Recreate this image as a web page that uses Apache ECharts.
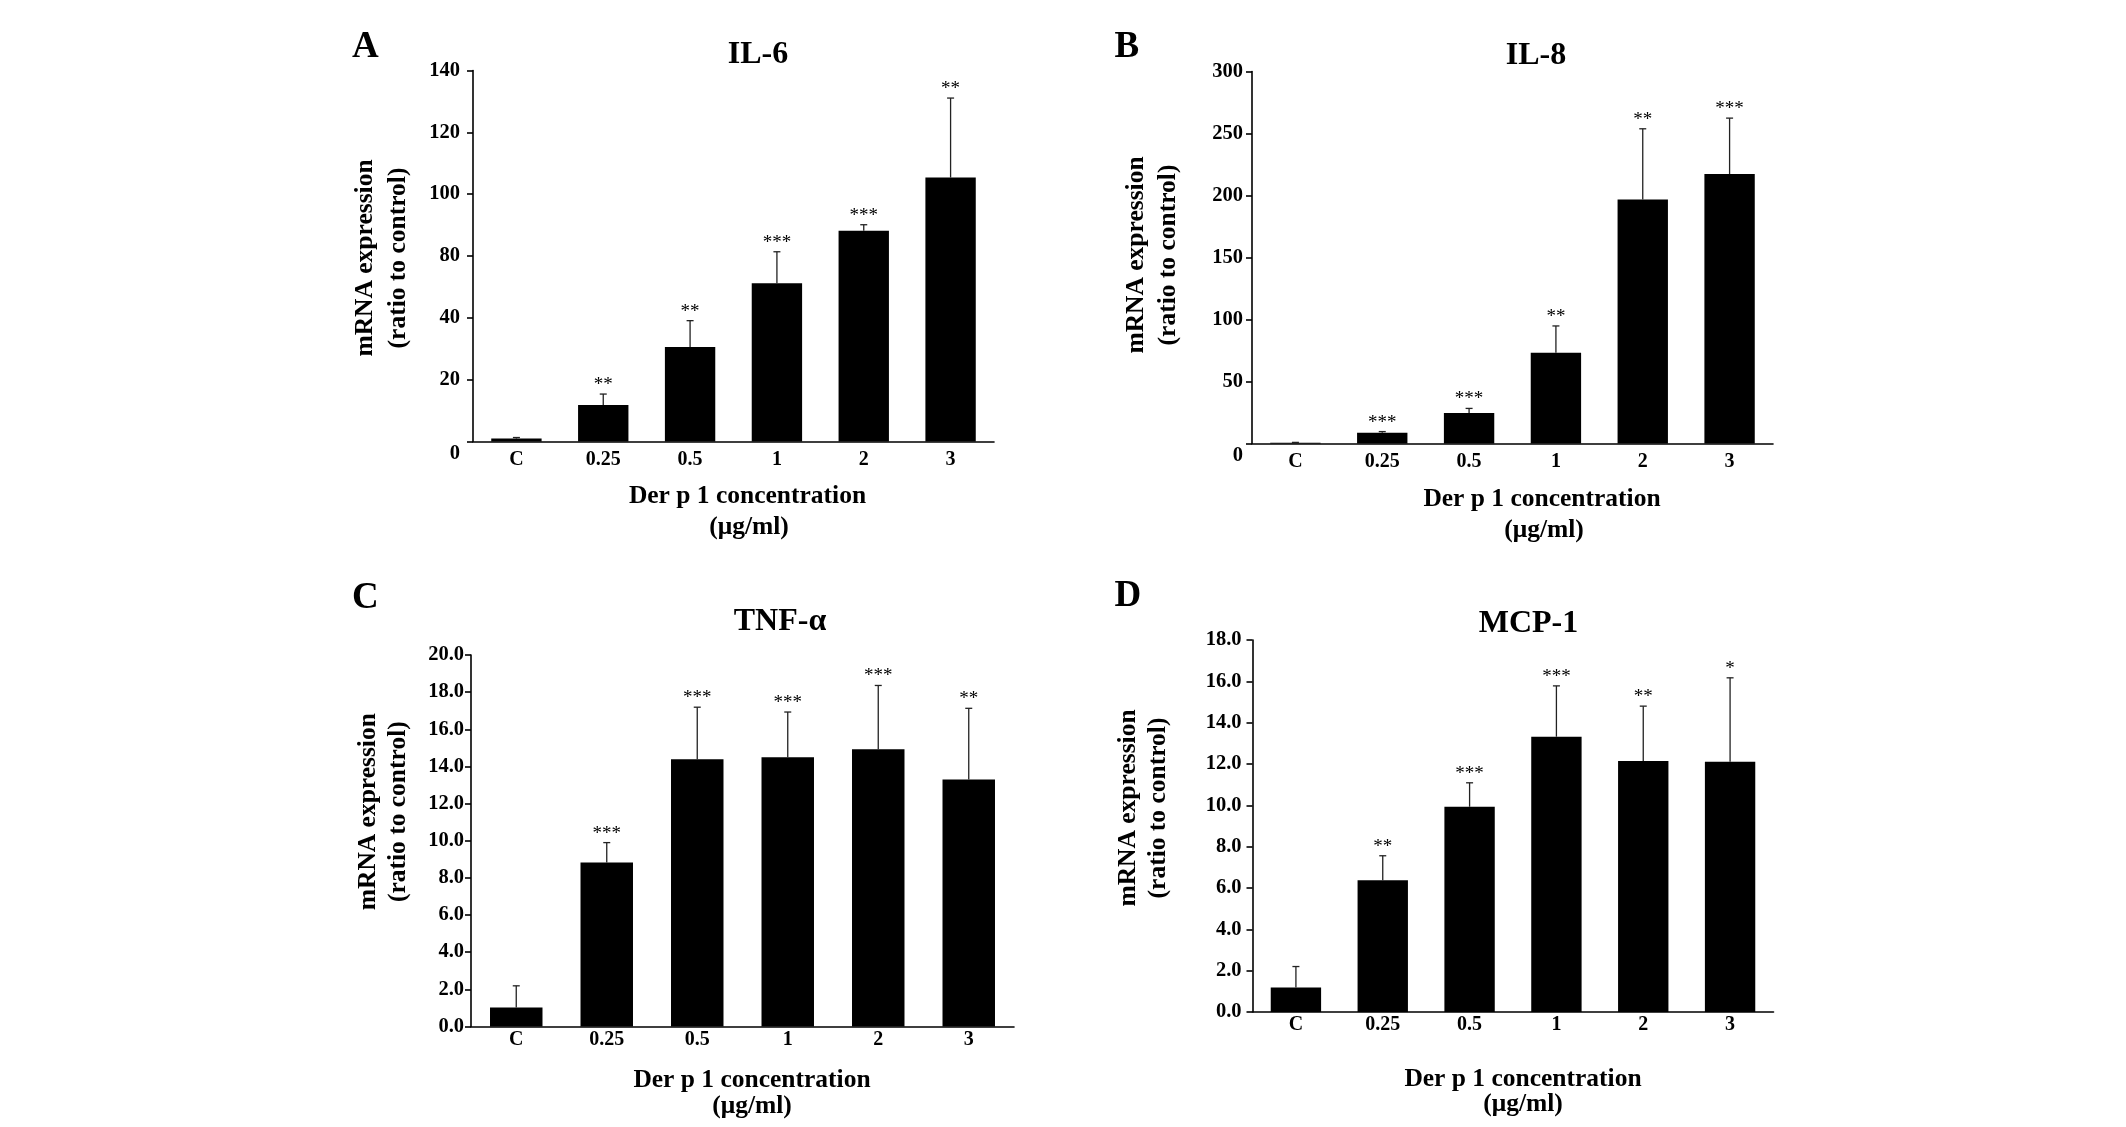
<!DOCTYPE html>
<html>
<head>
<meta charset="utf-8">
<script src="https://cdn.jsdelivr.net/npm/echarts@6/dist/echarts.min.js"></script>
<style>
html,body{margin:0;padding:0;background:#fff;}
#chart{width:2126px;height:1127px;}
</style>
</head>
<body>
<div id="chart"></div>
<script>
// ---- data ----
const categories = ['C', '0.25', '0.5', '1', '2', '3'];

const il6Mean = [1.1, 13.8, 35.7, 59.7, 79.5, 99.6];
const il6Err  = [0.4, 4.1, 9.9, 11.9, 2.3, 30.0];
const il6Sig  = ['', '**', '**', '***', '***', '**'];
const il6Ticks = ['0', '20', '40', '80', '100', '120', '140'];

const il8Mean = [0.6, 8.7, 24.6, 73.1, 196.8, 217.3];
const il8Err  = [0.3, 0.9, 3.7, 21.7, 57.0, 45.1];
const il8Sig  = ['', '***', '***', '**', '**', '***'];
const il8Ticks = ['0', '50', '100', '150', '200', '250', '300'];

const tnfMean = [1.02, 8.83, 14.39, 14.49, 14.92, 13.30];
const tnfErr  = [1.17, 1.07, 2.80, 2.44, 3.44, 3.83];
const tnfSig  = ['', '***', '***', '***', '***', '**'];
const tnfTicks = ['0.0', '2.0', '4.0', '6.0', '8.0', '10.0', '12.0', '14.0', '16.0', '18.0', '20.0'];

const mcpMean = [1.18, 6.38, 9.93, 13.32, 12.15, 12.11];
const mcpErr  = [1.02, 1.18, 1.16, 2.46, 2.65, 4.06];
const mcpSig  = ['', '**', '***', '***', '**', '*'];
const mcpTicks = ['0.0', '2.0', '4.0', '6.0', '8.0', '10.0', '12.0', '14.0', '16.0', '18.0'];

const panelLetters = ['A', 'B', 'C', 'D'];
const panelTitles = ['IL-6', 'IL-8', 'TNF-α', 'MCP-1'];
const xName1 = 'Der p 1 concentration';
const xName2 = '(μg/ml)';
const yName1 = 'mRNA expression';
const yName2 = '(ratio to control)';

// ---- layout / style ----
const FONT = '"Liberation Serif", "Times New Roman", serif';

const panels = [
  { mean: il6Mean, err: il6Err, sig: il6Sig, ticks: il6Ticks, max: 140,
    grid: { left: 473, top: 70.5, width: 521, height: 371 },
    yLabelMargin: 13, xLabelMargin: 8, zeroDown: true,
    letter: [352, 47.5], title: [758, 55], xn1: [747.5, 496], xn2: [749, 527],
    yn1: [365, 258], yn2: [398.5, 258] },
  { mean: il8Mean, err: il8Err, sig: il8Sig, ticks: il8Ticks, max: 300,
    grid: { left: 1252, top: 71.5, width: 521, height: 372 },
    yLabelMargin: 9, xLabelMargin: 8, zeroDown: true,
    letter: [1114.5, 47.5], title: [1536, 55.5], xn1: [1542, 499], xn2: [1544, 530],
    yn1: [1136.5, 255], yn2: [1168.5, 255] },
  { mean: tnfMean, err: tnfErr, sig: tnfSig, ticks: tnfTicks, max: 20,
    grid: { left: 471, top: 655, width: 543, height: 371.5 },
    yLabelMargin: 7, xLabelMargin: 3, zeroDown: false,
    letter: [352, 598], title: [780, 622], xn1: [752, 1080], xn2: [752, 1106],
    yn1: [368, 811.7], yn2: [398.5, 811.7] },
  { mean: mcpMean, err: mcpErr, sig: mcpSig, ticks: mcpTicks, max: 18,
    grid: { left: 1252.5, top: 640, width: 521, height: 372 },
    yLabelMargin: 11, xLabelMargin: 3, zeroDown: false,
    letter: [1114.5, 596], title: [1528.5, 623.6], xn1: [1523, 1079], xn2: [1523, 1104],
    yn1: [1128.3, 808], yn2: [1158.5, 808] }
];

function txt(x, y, text, font, align, rotation) {
  return {
    type: 'text', x: x, y: y, rotation: rotation || 0, silent: true,
    style: { text: text, font: font, fill: '#000',
      align: align, verticalAlign: 'middle',
      textAlign: align, textVerticalAlign: 'middle' }
  };
}

const grids = [], xAxes = [], yAxes = [], series = [], graphics = [];

panels.forEach(function (p, i) {
  grids.push(Object.assign({ containLabel: false }, p.grid));
  const nTicks = p.ticks.length - 1;
  const step = p.max / nTicks;
  xAxes.push({
    type: 'category', gridIndex: i, data: categories, boundaryGap: true,
    axisLine: { lineStyle: { color: '#000', width: 1.6 } },
    axisTick: { show: false },
    axisLabel: { color: '#000', fontFamily: FONT, fontWeight: 'bold', fontSize: 20,
      margin: p.xLabelMargin, interval: 0 },
    splitLine: { show: false }
  });
  yAxes.push({
    type: 'value', gridIndex: i, min: 0, max: p.max, interval: step,
    axisLine: { show: true, lineStyle: { color: '#000', width: 1.6 } },
    axisTick: { show: true, inside: false, length: 6, lineStyle: { color: '#000', width: 1.6 } },
    splitLine: { show: false },
    axisLabel: {
      color: '#000', fontFamily: FONT, fontWeight: 'bold', fontSize: 20.5,
      margin: p.yLabelMargin,
      formatter: function (v) {
        const k = Math.round(v / step);
        const s = p.ticks[k] !== undefined ? p.ticks[k] : '';
        if (k === 0 && p.zeroDown) return '{z|' + s + '}';
        return s;
      },
      rich: { z: { padding: [25, 0, 0, 0], fontFamily: FONT, fontWeight: 'bold', fontSize: 20.5, color: '#000' } }
    }
  });
  series.push({
    type: 'bar', xAxisIndex: i, yAxisIndex: i, data: p.mean, barWidth: '58%',
    itemStyle: { color: '#000' }, silent: true, animation: false
  });
  series.push({
    type: 'custom', xAxisIndex: i, yAxisIndex: i, z: 5, silent: true, animation: false,
    data: p.mean.map(function (m, k) { return [k, m, p.err[k]]; }),
    renderItem: function (params, api) {
      const k = api.value(0), m = api.value(1), e = api.value(2);
      const base = api.coord([k, m]);
      const top = api.coord([k, m + e]);
      const sig = p.sig[params.dataIndex];
      const ls = { stroke: '#222', lineWidth: 1.3 };
      return {
        type: 'group',
        children: [
          { type: 'line', shape: { x1: base[0], y1: base[1], x2: top[0], y2: top[1] }, style: ls },
          { type: 'line', shape: { x1: top[0] - 3.5, y1: top[1], x2: top[0] + 3.5, y2: top[1] }, style: ls },
          { type: 'text', x: top[0], y: top[1] - 9,
            style: { text: sig, font: '19px ' + FONT, fill: '#000',
              align: 'center', verticalAlign: 'middle', textAlign: 'center', textVerticalAlign: 'middle' } }
        ]
      };
    }
  });
  graphics.push(txt(p.letter[0], p.letter[1], panelLetters[i], 'bold 37px ' + FONT, 'left'));
  graphics.push(txt(p.title[0], p.title[1], panelTitles[i], 'bold 32px ' + FONT, 'center'));
  graphics.push(txt(p.xn1[0], p.xn1[1], xName1, 'bold 25.5px ' + FONT, 'center'));
  graphics.push(txt(p.xn2[0], p.xn2[1], xName2, 'bold 25.5px ' + FONT, 'center'));
  graphics.push(txt(p.yn1[0], p.yn1[1], yName1, 'bold 25.5px ' + FONT, 'center', Math.PI / 2));
  graphics.push(txt(p.yn2[0], p.yn2[1], yName2, 'bold 25.5px ' + FONT, 'center', Math.PI / 2));
});

const chart = echarts.init(document.getElementById('chart'), null, { renderer: 'canvas' });
chart.setOption({
  backgroundColor: '#fff',
  animation: false,
  grid: grids,
  xAxis: xAxes,
  yAxis: yAxes,
  series: series,
  graphic: { elements: graphics }
});
</script>
</body>
</html>
